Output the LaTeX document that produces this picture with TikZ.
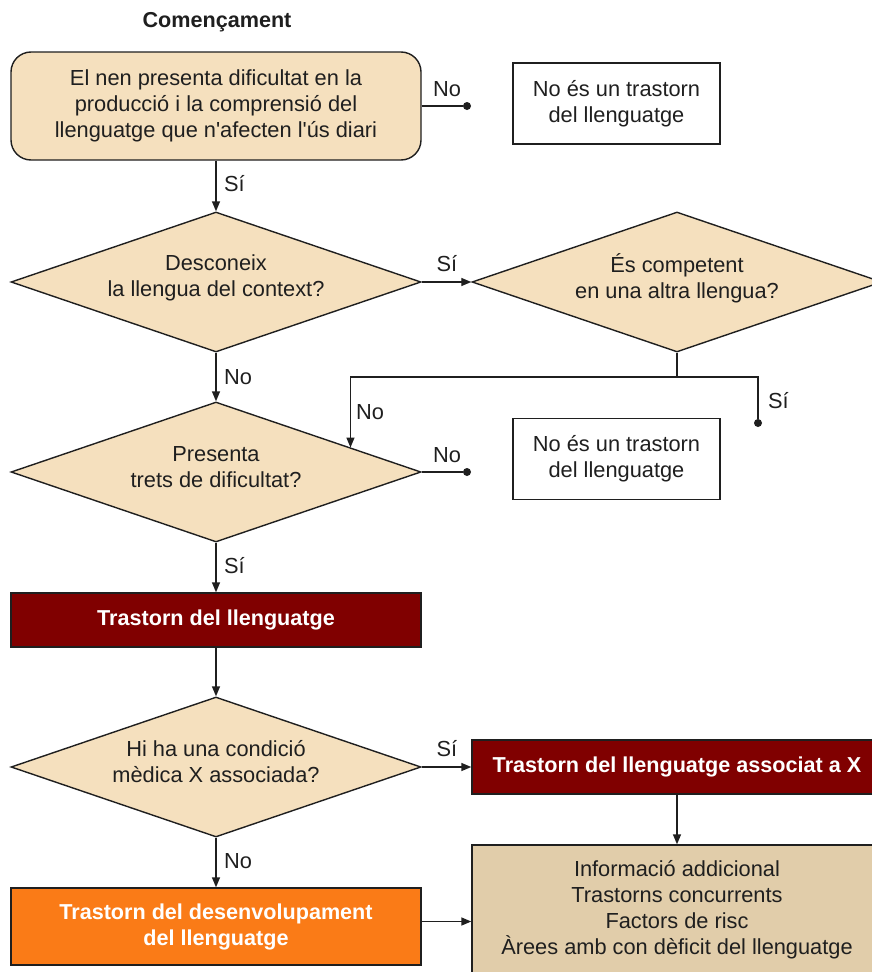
\documentclass[tikz,border=0pt]{standalone}
\usepackage{fontspec}
\newfontfamily\lsans{Liberation Sans}
\usetikzlibrary{shapes.geometric,arrows.meta,calc}
\definecolor{ink}{HTML}{1F1F1F}
\definecolor{cream}{HTML}{F5E0BE}
\definecolor{sand}{HTML}{E1CDAA}
\definecolor{maroonbox}{HTML}{800000}
\definecolor{orangebox}{HTML}{FA7B17}
\begin{document}
\begin{tikzpicture}[x=1pt,y=-1pt,
  base/.style={font=\lsans\fontsize{21.8}{26}\selectfont, text=ink, align=center, inner sep=0pt},
  strong/.style={font=\lsans\bfseries\fontsize{21.6}{26}\selectfont, align=center, inner sep=0pt},
  frame/.style={draw=ink, line width=1.4pt},
  startbox/.style={base, frame, fill=cream, rounded corners=20pt, minimum width=410pt, minimum height=108pt},
  decision/.style={frame, fill=cream, shape=diamond, inner sep=0pt, minimum width=410pt, minimum height=140pt},
  outbox/.style={base, frame, fill=white, minimum width=207pt, minimum height=81pt},
  darkbox/.style={strong, frame, fill=maroonbox, text=white, minimum width=410pt, minimum height=54pt},
  devbox/.style={strong, frame, fill=orangebox, text=white, minimum width=410pt, minimum height=77pt},
  infobox/.style={base, frame, fill=sand, minimum width=410pt, minimum height=130pt},
  lbl/.style={base},
  wire/.style={draw=ink, line width=1.4pt},
  arrow/.style={wire, -{Triangle[length=10pt,width=8pt]}},
  dot/.style={circle, fill=ink, inner sep=0pt, minimum size=8pt}]

\useasboundingbox (0,0) rectangle (872,972);
\clip (0,0) rectangle (872,972);

% title
\node[strong, text=ink] (title) at (217,22) {Començament};

% first question
\node[startbox] (q0) at (216,106) {El nen presenta dificultat en la\\producció i la comprensió del\\llenguatge que n'afecten l'ús diari};
\node[dot] (p1) at (467,106) {};
\node[outbox] (n1) at (616.5,103.5) {No és un trastorn\\del llenguatge};

% language of the context
\node[decision] (d1) at (216,282) {};
\node[base] (d1t) at (216,278) {Desconeix\\la llengua del context?};
\node[decision] (d2) at (677,282) {};
\node[base] (d2t) at (677,278) {És competent\\en una altra llengua?};
\coordinate (split) at (677,377);
\node[dot] (p3) at (758,423) {};

% difficulty traits
\node[decision] (d3) at (216,472) {};
\node[base] (d3t) at (216,467) {Presenta\\trets de dificultat?};
\node[dot] (p2) at (467,472) {};
\node[outbox] (n2) at (616.5,459) {No és un trastorn\\del llenguatge};

% diagnosis
\node[darkbox] (r1) at (216,620) {Trastorn del llenguatge};
\node[decision] (d4) at (216,767) {};
\node[base] (d4t) at (216,762) {Hi ha una condició\\mèdica X associada?};
\node[darkbox] (r2) at (677,767) {Trastorn del llenguatge associat a X};
\node[devbox] (dev) at (216,926.5) {Trastorn del desenvolupament\\del llenguatge};
\node[infobox] (info) at (677,910) {Informació addicional\\Trastorns concurrents\\Factors de risc\\Àrees amb con dèficit del llenguatge};

% connectors
\draw[wire] (q0.east) -- (p1);
\draw[arrow] (q0) -- (d1);
\draw[arrow] (d1) -- (d2);
\draw[wire] (d2.south) -- (split);
\draw[arrow] (split) -| ($(d3.north)!0.6537!(d3.east)$);
\draw[wire] (split) -| (p3);
\draw[arrow] (d1) -- (d3);
\draw[wire] (d3.east) -- (p2);
\draw[arrow] (d3) -- (r1);
\draw[arrow] (r1) -- (d4);
\draw[arrow] (d4) -- (r2);
\draw[arrow] (r2) -- (info);
\draw[arrow] (d4) -- (dev);
\draw[arrow] ([yshift=5pt]dev.east) -- ([yshift=5pt]dev.east -| info.west);

% branch labels
\node[lbl] (l1) at (447,89) {No};
\node[lbl, anchor=west] (l2) at (224,184) {Sí};
\node[lbl] (l3) at (447,264) {Sí};
\node[lbl, anchor=west] (l4) at (224,377) {No};
\node[lbl, anchor=west] (l5) at (356,412) {No};
\node[lbl, anchor=west] (l6) at (768,401) {Sí};
\node[lbl] (l7) at (447,455) {No};
\node[lbl, anchor=west] (l8) at (224,566) {Sí};
\node[lbl] (l9) at (447,749) {Sí};
\node[lbl, anchor=west] (l10) at (224,861) {No};
\end{tikzpicture}
\end{document}
